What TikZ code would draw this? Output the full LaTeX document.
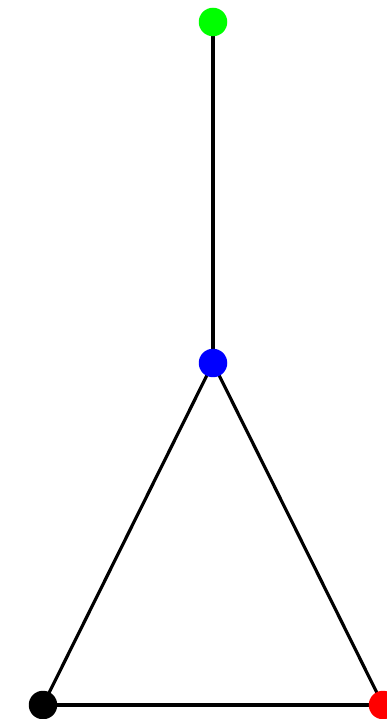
\documentclass[tikz,border=0pt]{standalone}
\usepackage{xcolor}
\usepackage{tikz}
\usetikzlibrary{positioning,calc,backgrounds}
\definecolor{vgreen}{RGB}{0,255,0}
\definecolor{vblue}{RGB}{0,0,255}
\definecolor{vred}{RGB}{255,0,0}

\begin{document}
\begin{tikzpicture}[
			x=0.02cm, y=-0.02cm,
			vertex/.style={circle, inner sep=0pt, minimum size=0.57cm},
			edge/.style={draw, black, line width=1.8pt}
			]
			\useasboundingbox (0,0) rectangle (386,719);
			\node[vertex, fill=vgreen] (top) at (213,22) {};
			\node[vertex, fill=vblue] (mid) at (213,363) {};
			\node[vertex, fill=black] (left) at (43,705) {};
			\node[vertex, fill=vred] (right) at (383,705) {};
			
			\begin{scope}[on background layer]
			\draw[edge] (top.center) -- (mid.center);
			\draw[edge] (mid.center) -- (left.center);
			\draw[edge] (mid.center) -- (right.center);
			\draw[edge] (left.center) -- (right.center);
			\end{scope}
		\end{tikzpicture}
\end{document}
